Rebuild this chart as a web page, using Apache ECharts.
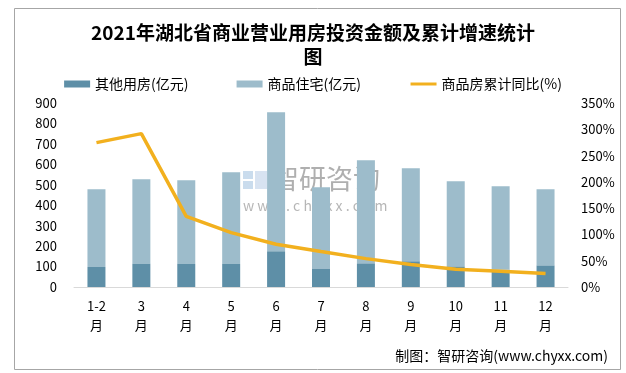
<!DOCTYPE html>
<html>
<head>
<meta charset="utf-8">
<script src="https://cdn.jsdelivr.net/npm/echarts@6/dist/echarts.min.js"></script>
<style>html,body{margin:0;padding:0;background:#fff;}#c{width:626px;height:373px;}</style>
</head>
<body>
<div id="c"></div>
<script>
var categories = ['1-2\n月','3\n月','4\n月','5\n月','6\n月','7\n月','8\n月','9\n月','10\n月','11\n月','12\n月'];
var otherValues = [98,113,113,113,175,91,116,126,101,85,106];
var residentialValues = [380,414,409,448,680,397,504,455,416,408,372];
var growthValues = [274.6,291.7,134.5,103.4,81.2,67.5,54,43,33.7,29.9,25.5];
var leftTicks = {min:0, max:900, interval:100};
var rightTicks = {min:0, max:350, interval:50};

var font = '"Noto Sans CJK SC", "Noto Sans", sans-serif';
var chart = echarts.init(document.getElementById('c'), null, {renderer:'canvas'});
chart.setOption({
  backgroundColor:'#fff',
  animation:false,
  textStyle:{fontFamily:font},
  title:{
    text:'2021年湖北省商业营业用房投资金额及累计增速统计\n图',
    left:'center', top:16,
    textStyle:{fontSize:19, fontWeight:'bold', color:'#000', lineHeight:24, fontFamily:font}
  },
  legend:{
    top:72, left:'center', itemGap:48, itemWidth:26, itemHeight:7,
    textStyle:{fontSize:14, color:'#000', fontFamily:font},
    data:[{name:'其他用房(亿元)', icon:'rect'},{name:'商品住宅(亿元)', icon:'rect'},
          {name:'商品房累计同比(%)', itemStyle:{opacity:0}, lineStyle:{width:3, color:'#f2b01e'}}]
  },
  grid:{left:74, right:58, top:103, bottom:86},
  xAxis:{
    type:'category', data:categories,
    axisLine:{lineStyle:{color:'#d9d9d9', width:1}},
    axisTick:{show:false},
    axisLabel:{color:'#000', fontSize:13, lineHeight:19, margin:10, interval:0, fontFamily:font}
  },
  yAxis:[
    {type:'value', min:leftTicks.min, max:leftTicks.max, interval:leftTicks.interval,
     axisLine:{show:false}, axisTick:{show:false}, splitLine:{show:false},
     axisLabel:{color:'#000', fontSize:13, margin:17, fontFamily:font}},
    {type:'value', min:rightTicks.min, max:rightTicks.max, interval:rightTicks.interval,
     axisLine:{show:false}, axisTick:{show:false}, splitLine:{show:false},
     axisLabel:{color:'#000', fontSize:13, margin:13, formatter:'{value}%', fontFamily:font}}
  ],
  series:[
    {name:'其他用房(亿元)', type:'bar', stack:'total', barWidth:18, data:otherValues,
     itemStyle:{color:'#5e8fa7'}},
    {name:'商品住宅(亿元)', type:'bar', stack:'total', barWidth:18, data:residentialValues,
     itemStyle:{color:'#9dbccb'}},
    {name:'商品房累计同比(%)', type:'line', yAxisIndex:1, data:growthValues,
     symbol:'none', showSymbol:false, lineStyle:{color:'#f2b01e', width:3.5}, itemStyle:{color:'#f2b01e'}, z:5}
  ],
  graphic:[
    {type:'rect', left:12, top:6, shape:{width:606, height:361}, silent:true,
     style:{fill:'none', stroke:'#a6a6a6', lineWidth:1}},
    {type:'group', left:243, top:165, z:100, silent:true, children:[
      {type:'rect', shape:{x:0, y:3, width:10, height:8}, style:{fill:'rgba(180,205,230,0.7)'}},
      {type:'rect', shape:{x:0, y:13, width:10, height:8}, style:{fill:'rgba(180,205,230,0.7)'}},
      {type:'rect', shape:{x:12, y:3, width:12, height:18}, style:{fill:'rgba(200,215,235,0.7)'}},
      {type:'text', x:29, y:-3, style:{text:'智研咨询', fontSize:27, fill:'rgba(110,110,110,0.55)', fontFamily:font}},
      {type:'text', x:0, y:31, style:{text:'w w w . c h y x x . c o m', fontSize:14, fill:'rgba(110,110,110,0.5)', fontFamily:font}}
    ]},
    {type:'text', right:18, top:349, silent:true,
     style:{text:'制图：智研咨询(www.chyxx.com)', fontSize:14, fill:'#000', fontFamily:font}}
  ]
});
</script>
</body>
</html>
